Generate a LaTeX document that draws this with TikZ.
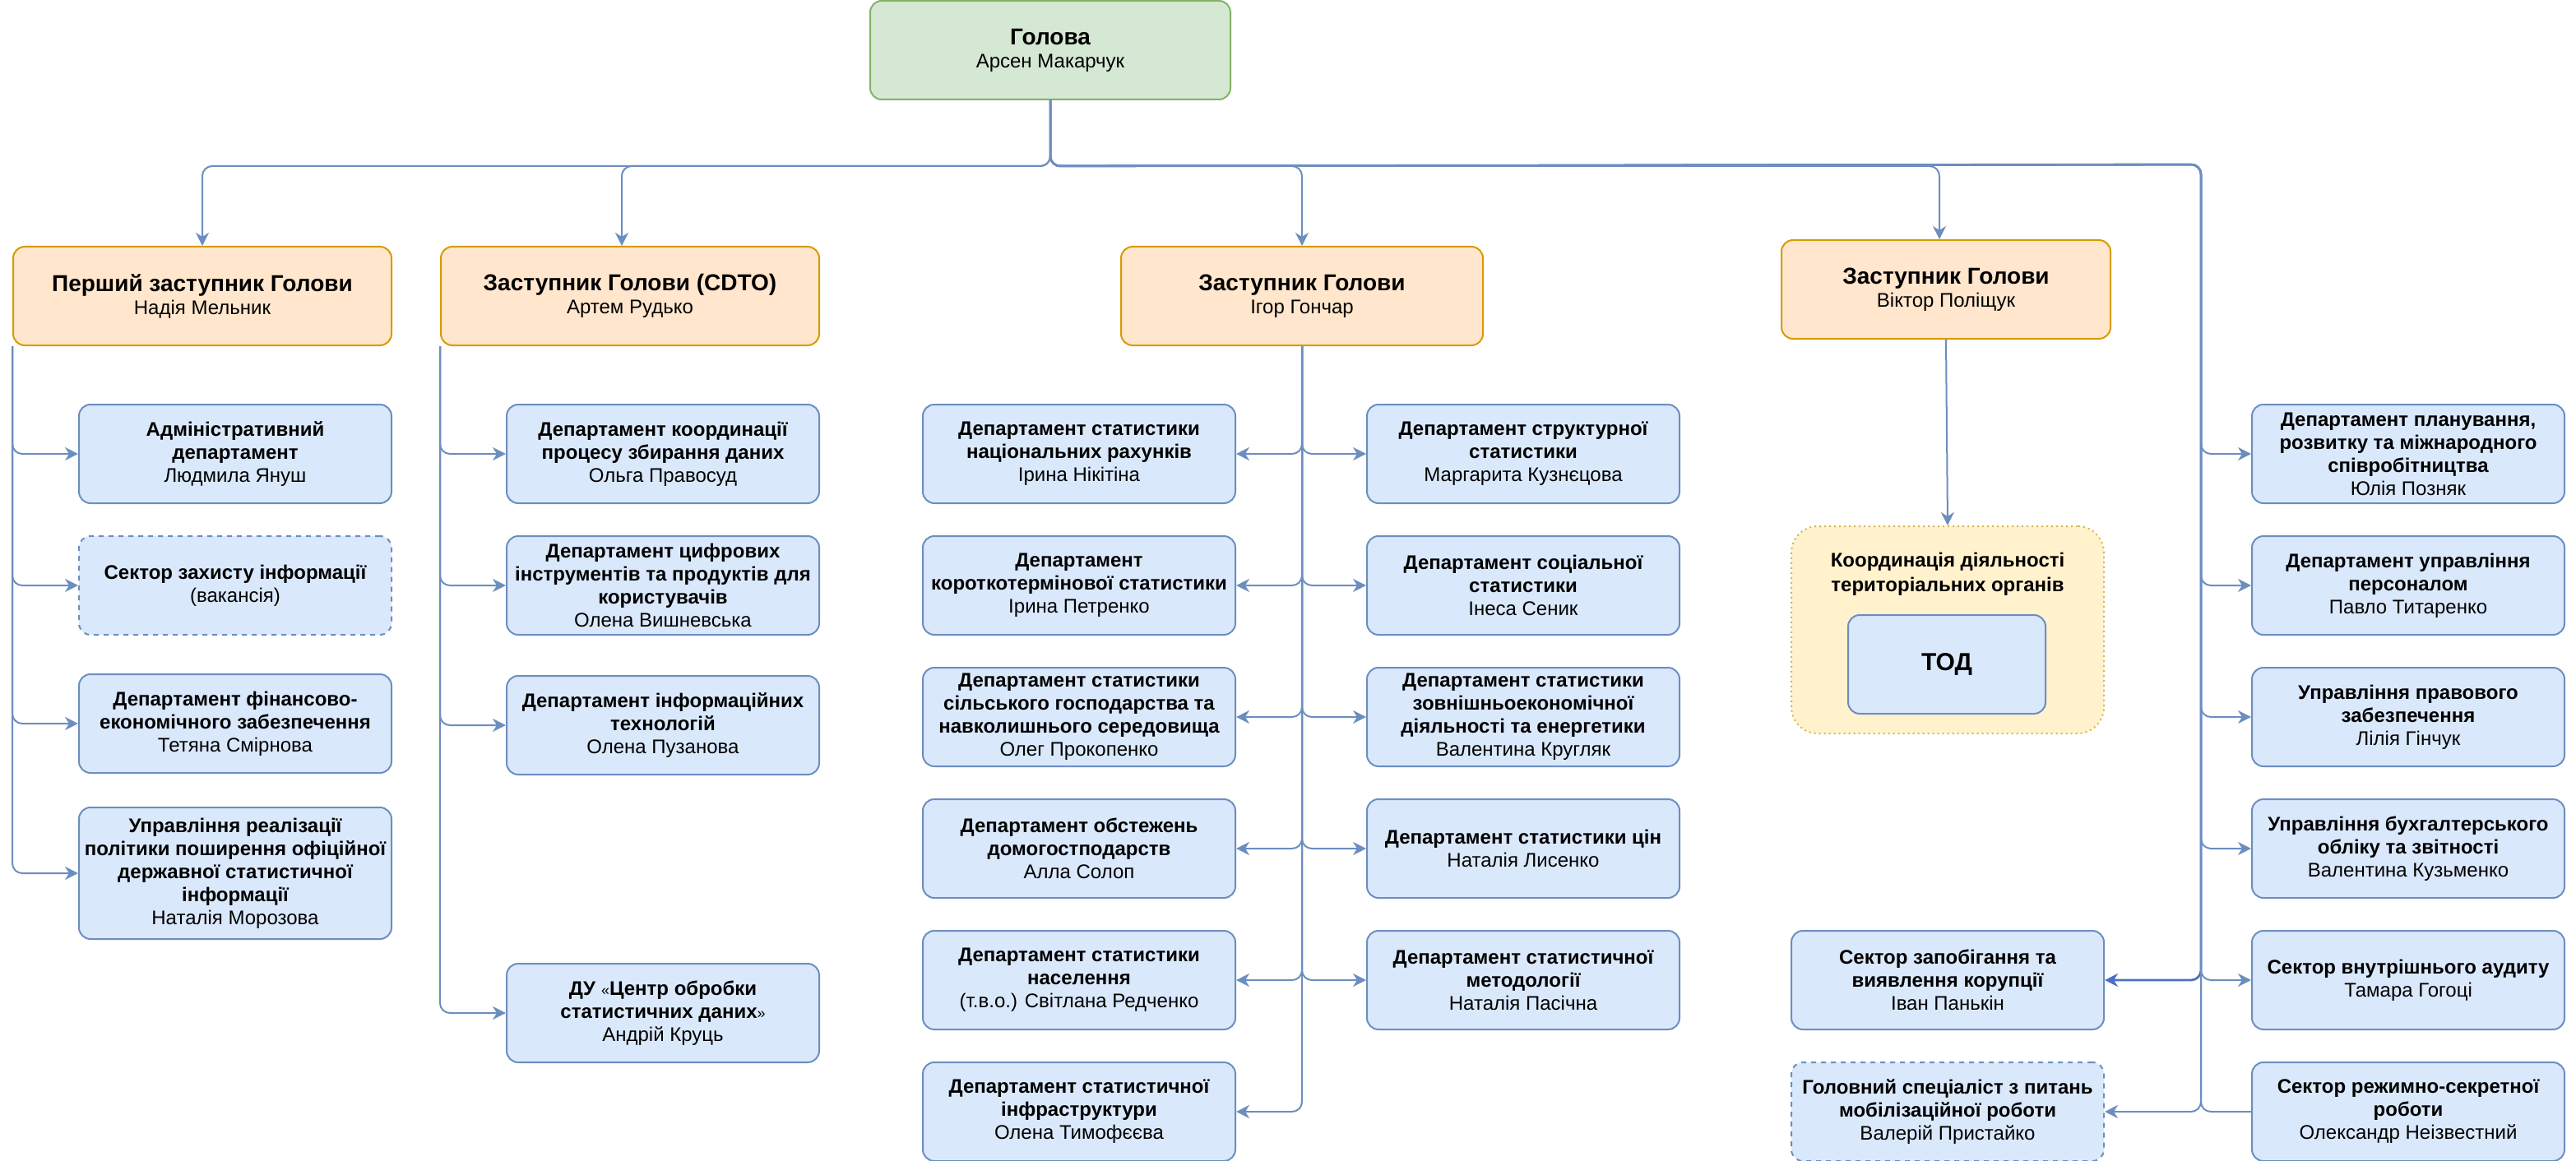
\documentclass[tikz,border=0pt]{standalone}
\usepackage{fontspec}
\setmainfont{Liberation Sans}
\usetikzlibrary{arrows.meta}

\definecolor{headfill}{HTML}{D5E8D4}
\definecolor{headline}{HTML}{82B366}
\definecolor{depfill}{HTML}{FFE6CC}
\definecolor{depline}{HTML}{D79B00}
\definecolor{unitfill}{HTML}{DAE8FC}
\definecolor{unitline}{HTML}{6C8EBF}
\definecolor{grpfill}{HTML}{FFF2CC}
\definecolor{grpline}{HTML}{D6B656}
\definecolor{linkblue}{HTML}{6C8EBF}
\definecolor{linkdark}{HTML}{4A6FC6}

\begin{document}
\begin{tikzpicture}[x=1pt,y=-1pt,
  unit/.style={draw=unitline,fill=unitfill,line width=1pt,rounded corners=7pt,
    minimum width=190pt,minimum height=60pt,inner sep=0pt,align=center,
    font=\fontsize{12}{14}\selectfont\bfseries},
  vacant/.style={unit,dash pattern=on 3pt off 3pt},
  deputy/.style={unit,draw=depline,fill=depfill,minimum width=230pt,
    font=\fontsize{12}{14}\selectfont},
  chief/.style={deputy,draw=headline,fill=headfill,minimum width=219pt},
  region/.style={draw=grpline,fill=grpfill,line width=1pt,dotted,rounded corners=16pt,
    minimum width=190pt,minimum height=126pt},
  link/.style={draw=linkblue,line width=1pt,rounded corners=6pt},
  edge/.style={link,-{Stealth[length=8pt,width=8pt,inset=2.5pt]}},
  hotedge/.style={edge,draw=linkdark,line width=1.4pt}]
  \useasboundingbox (0,0) rectangle (1566,706);

  % Head and deputies
  \node[chief] (head) at (638.5,30.5) {{\fontsize{14}{16}\selectfont\bfseries Голова}\\Арсен Макарчук};
  \node[deputy] (d1) at (123,180) {{\fontsize{14}{16}\selectfont\bfseries Перший заступник Голови}\\Надія Мельник};
  \node[deputy] (d2) at (383,180) {{\fontsize{14}{16}\selectfont\bfseries Заступник Голови (CDTO)}\\Артем Рудько};
  \node[deputy,minimum width=220pt] (d3) at (791.5,180) {{\fontsize{14}{16}\selectfont\bfseries Заступник Голови}\\Ігор Гончар};
  \node[deputy,minimum width=200pt] (d4) at (1183,176) {{\fontsize{14}{16}\selectfont\bfseries Заступник Голови}\\Віктор Поліщук};

  \coordinate (bus) at ([yshift=-40pt]head.south);
  \coordinate (busR) at (1338,100);

  % First deputy
  \node[unit] (c11) at (143,276) {Адміністративний\\департамент\\\textmd{Людмила Януш}};
  \node[vacant] (c12) at (143,356) {Сектор захисту інформації\\\textmd{(вакансія)}};
  \node[unit] (c13) at (143,440) {Департамент фінансово-\\економічного забезпечення\\\textmd{Тетяна Смірнова}};
  \node[unit,minimum height=80pt] (c14) at (143,531) {Управління реалізації\\політики поширення офіційної\\державної статистичної\\інформації\\\textmd{Наталія Морозова}};

  % CDTO
  \node[unit] (c21) at (403,276) {Департамент координації\\процесу збирання даних\\\textmd{Ольга Правосуд}};
  \node[unit] (c22) at (403,356) {Департамент цифрових\\інструментів та продуктів для\\користувачів\\\textmd{Олена Вишневська}};
  \node[unit] (c23) at (403,441) {Департамент інформаційних\\технологій\\\textmd{Олена Пузанова}};
  \node[unit] (c24) at (403,616) {ДУ \textmd{\small«}Центр обробки\\статистичних даних\textmd{\small»}\\\textmd{Андрій Круць}};

  % Statistics deputy
  \node[unit] (c31) at (656,276) {Департамент статистики\\національних рахунків\\\textmd{Ірина Нікітіна}};
  \node[unit] (c32) at (656,356) {Департамент\\короткотермінової статистики\\\textmd{Ірина Петренко}};
  \node[unit] (c33) at (656,436) {Департамент статистики\\сільського господарства та\\навколишнього середовища\\\textmd{Олег Прокопенко}};
  \node[unit] (c34) at (656,516) {Департамент обстежень\\домогостподарств\\\textmd{Алла Солоп}};
  \node[unit] (c35) at (656,596) {Департамент статистики\\населення\\\textmd{(т.в.о.) Світлана Редченко}};
  \node[unit] (c36) at (656,676) {Департамент статистичної\\інфраструктури\\\textmd{Олена Тимофєєва}};
  \node[unit] (c41) at (926,276) {Департамент структурної\\статистики\\\textmd{Маргарита Кузнєцова}};
  \node[unit] (c42) at (926,356) {Департамент соціальної\\статистики\\\textmd{Інеса Сеник}};
  \node[unit] (c43) at (926,436) {Департамент статистики\\зовнішньоекономічної\\діяльності та енергетики\\\textmd{Валентина Кругляк}};
  \node[unit] (c44) at (926,516) {Департамент статистики цін\\\textmd{Наталія Лисенко}};
  \node[unit] (c45) at (926,596) {Департамент статистичної\\методології\\\textmd{Наталія Пасічна}};

  % Territorial bodies
  \node[region] (terr) at (1184,383) {};
  \node[align=center,font=\fontsize{12}{15}\selectfont\bfseries] (terrlbl) at (1184,349) {Координація діяльності\\територіальних органів};
  \node[unit,minimum width=120pt] (tod) at (1183.5,404) {\fontsize{15}{18}\selectfont ТОД};

  % Directly under the head
  \node[unit] (l1) at (1184,596) {Сектор запобігання та\\виявлення корупції\\\textmd{Іван Панькін}};
  \node[vacant] (l2) at (1184,676) {Головний спеціаліст з питань\\мобілізаційної роботи\\\textmd{Валерій Пристайко}};
  \node[unit] (r1) at (1464,276) {Департамент планування,\\розвитку та міжнародного\\співробітництва\\\textmd{Юлія Позняк}};
  \node[unit] (r2) at (1464,356) {Департамент управління\\персоналом\\\textmd{Павло Титаренко}};
  \node[unit] (r3) at (1464,436) {Управління правового\\забезпечення\\\textmd{Лілія Гінчук}};
  \node[unit] (r4) at (1464,516) {Управління бухгалтерського\\обліку та звітності\\\textmd{Валентина Кузьменко}};
  \node[unit] (r5) at (1464,596) {Сектор внутрішнього аудиту\\\textmd{Тамара Гогоці}};
  \node[unit] (r6) at (1464,676) {Сектор режимно-секретної\\роботи\\\textmd{Олександр Неізвестний}};

  % Connectors
  \draw[hotedge] (head.south) -- (bus) -- (busR) |- (l1.east);
  \draw[edge] (head.south) -- (bus) -| (d1.north);
  \draw[edge] (head.south) -- (bus) -| ([xshift=-5pt]d2.north);
  \draw[edge] (head.south) -- (bus) -| (d3.north);
  \draw[edge] (head.south) -- (bus) -| ([xshift=-4pt]d4.north);
  \foreach \c in {c11,c12,c13,c14}
    \draw[edge] (d1.south west) |- (\c.west);
  \foreach \c in {c21,c22,c23,c24}
    \draw[edge] (d2.south west) |- (\c.west);
  \foreach \c in {c31,c32,c33,c34,c35,c36}
    \draw[edge] (d3.south) |- (\c.east);
  \foreach \c in {c41,c42,c43,c44,c45}
    \draw[edge] (d3.south) |- (\c.west);
  \draw[edge] (d4.south) -- (terr.north);
  \foreach \c in {r1,r2,r3,r4,r5}
    \draw[edge] (head.south) -- (bus) -- (busR) |- (\c.west);
  \draw[link] (head.south) -- (bus) -- (busR) |- (r6.west);
  \draw[edge] (head.south) -- (bus) -- (busR) |- (l2.east);
\end{tikzpicture}
\end{document}
